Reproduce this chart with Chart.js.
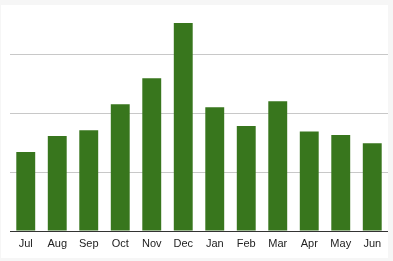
<!DOCTYPE html>
<html>
<head>
<meta charset="utf-8">
<script src="https://cdn.jsdelivr.net/npm/chart.js@4"></script>
<style>
  body { margin: 0; background: #f6f6f6; }
  #panel {
    position: absolute; left: 1px; top: 5px;
    width: 387px; height: 253px; background: #fff;
  }
</style>
</head>
<body>
<div id="panel"><canvas id="chart"></canvas></div>
<script>
/* data */
const months = ["Jul","Aug","Sep","Oct","Nov","Dec","Jan","Feb","Mar","Apr","May","Jun"];
const values = [13.4, 16.1, 17.1, 21.5, 25.9, 35.3, 21.0, 17.8, 22.0, 16.9, 16.3, 14.9];
const yMax = 38;
const yStep = 10;

new Chart(document.getElementById("chart"), {
  type: "bar",
  data: {
    labels: months,
    datasets: [{
      data: values,
      backgroundColor: "#38761d",
      categoryPercentage: 1,
      barPercentage: 0.6
    }]
  },
  options: {
    responsive: true,
    maintainAspectRatio: false,
    animation: false,
    layout: { padding: { left: 9, right: 0, top: 2, bottom: 0 } },
    plugins: { legend: { display: false }, tooltip: { enabled: false } },
    scales: {
      x: {
        grid: { display: false, drawTicks: false },
        border: { color: "#333", width: 1 },
        ticks: {
          color: "#222",
          padding: 6,
          font: { family: "Liberation Sans, Arial", size: 11 },
          maxRotation: 0
        },
        afterFit: (s) => { s.height = 27; }
      },
      y: {
        min: 0,
        max: yMax,
        ticks: { display: false, stepSize: yStep },
        grid: {
          // only the round steps get a line, not the top edge
          color: (c) => (c.tick && c.tick.value % yStep === 0) ? "#c8c8c8" : "rgba(0,0,0,0)",
          drawTicks: false
        },
        border: { display: false },
        afterFit: (s) => { s.width = 0; }
      }
    }
  }
});
</script>
</body>
</html>
